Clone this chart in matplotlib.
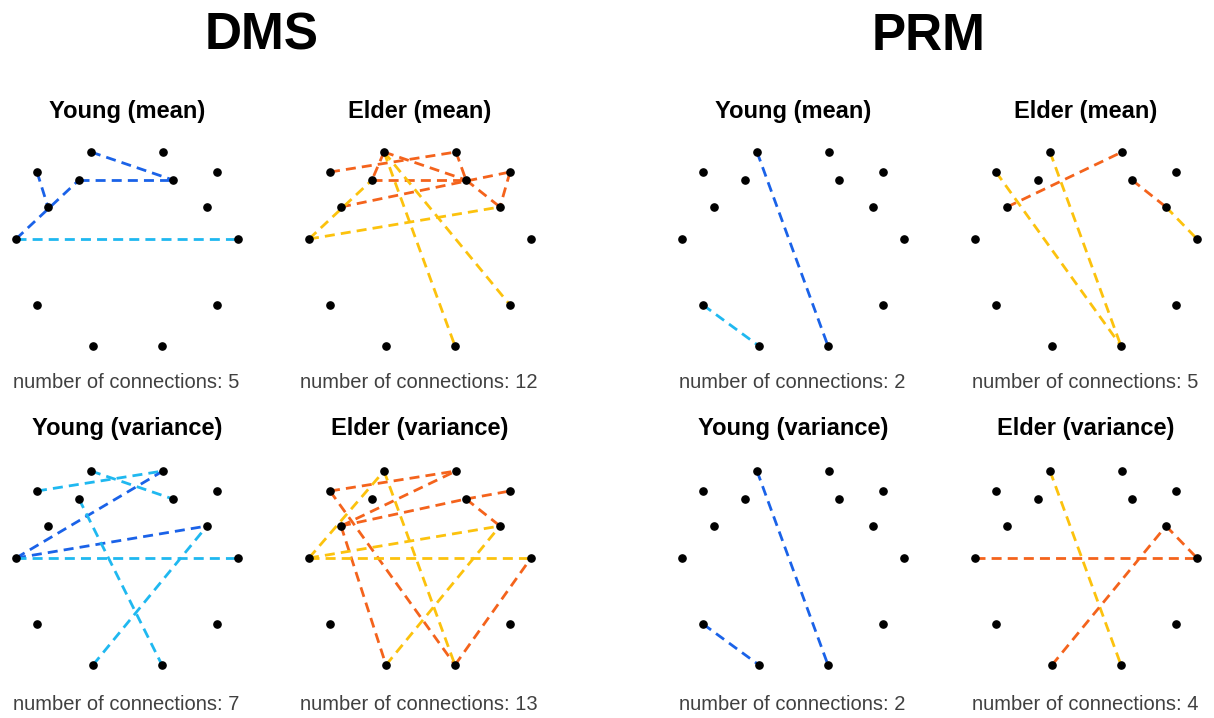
import matplotlib
matplotlib.use("Agg")
import matplotlib.pyplot as plt

plt.rcParams['font.family'] = ['Liberation Sans', 'DejaVu Sans']

# electrode layout (x to the right, y downwards)
node_x = [75, 147, 21, 63, 157, 201, 32, 191, 0, 222, 21, 201, 77, 146]
node_y = [0, 0, 20, 28, 28, 20, 55, 55, 87, 87, 153, 153, 194, 194]

tasks = ["DMS", "PRM"]
row_titles = [["Young (mean)", "Elder (mean)"], ["Young (variance)", "Elder (variance)"]]

# colours for strong ('hi') and weak ('lo') connections
young_colors = {"hi": "#1a62e8", "lo": "#1fb8f0"}
elder_colors = {"hi": "#f4631c", "lo": "#fcc20d"}

# edges: (node a, node b, level)
dms_young_mean = [(2, 6, "hi"), (8, 3, "hi"), (3, 4, "hi"), (0, 4, "hi"), (8, 9, "lo")]
dms_elder_mean = [(2, 1, "hi"), (0, 4, "hi"), (4, 7, "hi"), (0, 3, "hi"), (1, 4, "hi"),
                  (3, 4, "hi"), (6, 5, "hi"), (5, 7, "hi"),
                  (8, 7, "lo"), (8, 3, "lo"), (0, 13, "lo"), (0, 11, "lo")]
prm_young_mean = [(0, 13, "hi"), (10, 12, "lo")]
prm_elder_mean = [(6, 1, "hi"), (4, 7, "hi"), (2, 13, "lo"), (0, 13, "lo"), (7, 9, "lo")]

dms_young_var = [(2, 1, "lo"), (0, 4, "lo"), (8, 1, "hi"), (8, 7, "hi"), (8, 9, "lo"),
                 (3, 13, "lo"), (12, 7, "lo")]
dms_elder_var = [(2, 1, "hi"), (6, 1, "hi"), (6, 4, "hi"), (4, 5, "hi"), (2, 13, "hi"),
                 (6, 12, "hi"), (4, 7, "hi"), (13, 9, "hi"),
                 (8, 9, "lo"), (8, 7, "lo"), (8, 0, "lo"), (0, 13, "lo"), (12, 7, "lo")]
prm_young_var = [(0, 13, "hi"), (10, 12, "hi")]
prm_elder_var = [(8, 9, "hi"), (0, 13, "lo"), (12, 7, "hi"), (7, 9, "hi")]

panels = [
    [dms_young_mean, dms_elder_mean, prm_young_mean, prm_elder_mean],
    [dms_young_var, dms_elder_var, prm_young_var, prm_elder_var],
]

W, H = 1214, 718
fig = plt.figure(figsize=(W / 100, H / 100), dpi=100)

col_left = [16, 309, 682, 975]   # pixel x of the leftmost electrode
row_top = [152, 471]             # pixel y of the top electrodes
span_x, span_y = 222, 194

for r in range(2):
    for c in range(4):
        left = col_left[c] / W
        bottom = 1 - (row_top[r] + span_y) / H
        ax = fig.add_axes([left, bottom, span_x / W, span_y / H])
        ax.set_xlim(0, span_x)
        ax.set_ylim(span_y, 0)
        ax.axis("off")

        edges = panels[r][c]
        colors = young_colors if c % 2 == 0 else elder_colors
        for a, b, lvl in edges:
            ax.plot([node_x[a], node_x[b]], [node_y[a], node_y[b]],
                    linestyle=(0, (3.6, 2.2)), lw=2.0, color=colors[lvl],
                    clip_on=False, zorder=2)
        ax.plot(node_x, node_y, "o", ms=5.2, color="black", clip_on=False, zorder=3)

        ax.text(span_x / 2, -41 - r * 2, row_titles[r][c % 2], ha="center", va="center",
                fontsize=17, fontweight="bold", clip_on=False)
        ax.text(span_x / 2 - 1, 230 + r * 4, f"number of connections: {len(edges)}",
                ha="center", va="center", fontsize=14.5, color="#404040", clip_on=False)

for k, task in enumerate(tasks):
    xc = [262, 929][k]
    fig.text(xc / W, 1 - 50 / H, task, ha="center", va="baseline",
             fontsize=37, fontweight="bold")

fig.savefig("out.png", dpi=100)
